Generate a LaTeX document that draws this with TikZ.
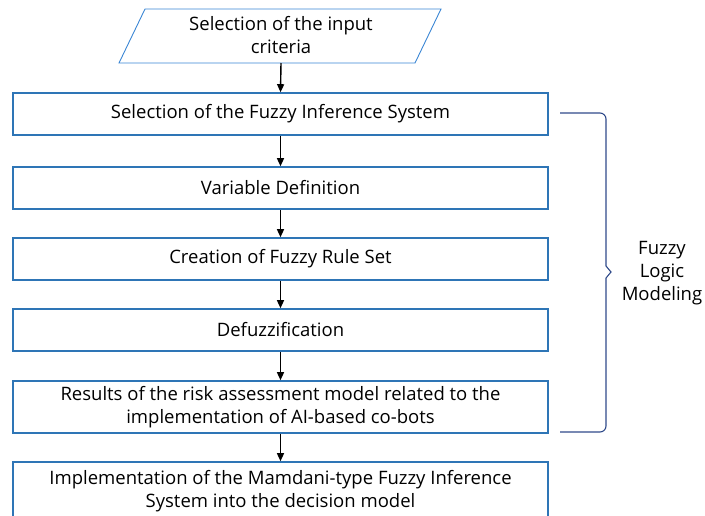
\documentclass[tikz,border=0pt]{standalone}
\usepackage{fontspec}
\setmainfont{Open Sans}
\usetikzlibrary{arrows.meta}
\definecolor{boxblue}{HTML}{2E75B6}
\definecolor{parblue}{HTML}{3A86D4}
\definecolor{bracec}{HTML}{2F4A8A}
\tikzset{
  stepbox/.style={draw=boxblue, line width=1.6pt, minimum width=535pt, minimum height=42pt, align=center, inner sep=0pt, font=\fontsize{18.5}{23}\selectfont},
  flow/.style={-{Triangle[length=8pt,width=7pt]}, line width=1.4pt, black},
  lbl/.style={align=center, font=\fontsize{18.5}{23}\selectfont}
}
\begin{document}
\begin{tikzpicture}[x=1pt,y=-1pt]
\useasboundingbox (0,0) rectangle (705,515);
% input parallelogram
\draw[parblue, line width=0.9pt] (145,9) -- (441,9) -- (415,63) -- (119,63) -- cycle;
\node[lbl] (inp) at (281,35) {Selection of the input\\criteria};
\coordinate (inpb) at (281,63);
\node[stepbox] (b1) at (280.5,114) {Selection of the Fuzzy Inference System};
\node[stepbox] (b2) at (280.5,188) {Variable Definition};
\node[stepbox] (b3) at (280.5,259) {Creation of Fuzzy Rule Set};
\node[stepbox] (b4) at (280.5,330) {Defuzzification};
\node[stepbox, minimum height=52pt] (b5) at (280.5,407) {Results of the risk assessment model related to the\\implementation of AI-based co-bots};
\node[stepbox, minimum height=58pt] (b6) at (280.5,491) {Implementation of the Mamdani-type Fuzzy Inference\\System into the decision model};
\draw[flow] (inpb) -- (b1.north);
\draw[flow] (b1) -- (b2);
\draw[flow] (b2) -- (b3);
\draw[flow] (b3) -- (b4);
\draw[flow] (b4) -- (b5);
\draw[flow] (b5) -- (b6);
% brace
\coordinate (bt) at (560,113);
\coordinate (bb) at (560,432);
\draw[bracec, line width=1.1pt, rounded corners=6pt] (bt) -- (606,113) -- (606,266);
\draw[bracec, line width=1.1pt] (606,266) -- (611,272) -- (606,278);
\draw[bracec, line width=1.1pt, rounded corners=6pt] (606,278) -- (606,432) -- (bb);
\node[lbl] (fl) at (662,273) {Fuzzy\\Logic\\Modeling};
\end{tikzpicture}
\end{document}
